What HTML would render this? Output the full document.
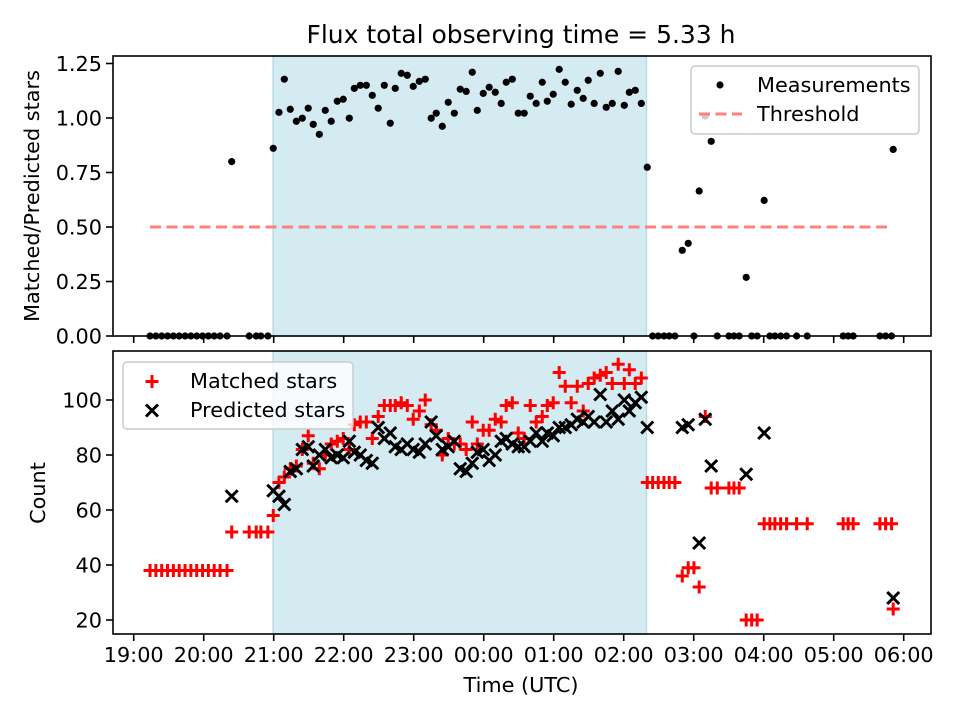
<!DOCTYPE html>
<html><head><meta charset="utf-8"><style>
body{margin:0;background:#fff}
svg{display:block;font-family:"DejaVu Sans","Liberation Sans",sans-serif}
</style></head><body>
<svg id="chart" width="960" height="720" viewBox="0 0 960 720"></svg>
<script>
// times in minutes after 19:00 UTC
const times=[14,19,24,29,34,39,44,49,54,59,64,69,74,80,84,99,105,109,115,
119.6,124.5,129.1,134.2,139.4,144.5,149.6,153.9,159.1,164.2,169.3,174.5,179.6,184.8,189.1,194.2,199.4,204.5,209.6,214.8,219.9,224.2,229.3,234.5,239.6,244.8,249.9,255.0,259.3,264.5,269.6,274.8,279.9,285.0,290.2,294.5,299.6,304.7,309.9,315.0,319.3,324.5,329.6,334.7,339.9,345.0,350.2,354.5,359.6,364.7,369.9,375.0,380.2,385.3,389.6,394.7,399.9,405.0,410.2,415.3,420.5,424.8,429.9,435.1,440.2,
444.8,449.6,454.5,459.0,463.9,470.2,475.3,480.2,484.7,489.9,495.0,500.2,510.2,514.5,519.0,525.0,529.7,534.4,540.4,545.3,549.6,554.5,559.6,568.2,577.3,608.1,612.4,616.7,639.6,644.5,649.6,651.0];
const ratio=[0,0,0,0,0,0,0,0,0,0,0,0,0,0,0.80,0,0,0,0,
0.861,1.026,1.178,1.04,0.985,0.999,1.045,0.971,0.925,1.035,0.985,1.077,1.086,0.999,1.136,1.15,1.15,1.104,1.045,1.15,0.976,1.136,1.205,1.196,1.145,1.168,1.178,0.999,1.022,0.962,1.072,1.022,1.132,1.122,1.21,1.035,1.113,1.141,1.118,1.067,1.164,1.178,1.022,1.022,1.10,1.067,1.164,1.077,1.109,1.223,1.164,1.063,1.127,1.09,1.173,1.067,1.205,1.049,1.067,1.214,1.058,1.118,1.127,1.067,0.774,
0,0,0,0,0,0.393,0.425,0,0.665,1.009,0.893,0,0,0,0,0.269,0,0,0.622,0,0,0,0,0,0,0,0,0,0,0,0,0.856];
const matched=[38,38,38,38,38,38,38,38,38,38,38,38,38,38,52,52,52,52,52,
58,70,72,75,76,82,87,77,75,80,84,85,86,82,91,92,92,86,94,98,98,98,99,98,93,96,100,91,89,80,86,84,84,82,92,84,89,89,93,92,98,99,88,86,98,92,94,98,99,110,105,99,105,96,106,108,109,110,106,113,106,111,106,108,70,
70,70,70,70,70,36,39,39,32,94,68,68,68,68,68,20,20,20,55,55,55,55,55,55,55,55,55,55,55,55,55,24];
const predicted=[null,null,null,null,null,null,null,null,null,null,null,null,null,null,65,null,null,null,null,
67,65,62,74,75,82,83,76,80,82,79,80,79,85,81,80,78,77,90,86,88,83,82,84,82,81,84,92,87,82,83,85,75,74,77,81,82,78,80,85,86,84,83,83,85,88,85,88,87,90,90,91,93,92,94,92,102,92,96,93,100,96,99,101,90,
null,null,null,null,null,90,91,null,48,93,76,null,null,null,null,73,null,null,88,null,null,null,null,null,null,null,null,null,null,null,null,28];
const xTickLabels=["19:00","20:00","21:00","22:00","23:00","00:00","01:00","02:00","03:00","04:00","05:00","06:00"];
const topTicks=[0,0.25,0.5,0.75,1.0,1.25];
const botTicks=[20,40,60,80,100];
const shadeStart=119.5, shadeEnd=439.5, thrStart=14, thrEnd=650, threshold=0.5;

const NS="http://www.w3.org/2000/svg";
const svg=document.getElementById('chart');
function mk(tag,attrs,parent){const e=document.createElementNS(NS,tag);for(const k in attrs)e.setAttribute(k,attrs[k]);(parent||svg).appendChild(e);return e;}
const L=113,R=931,T1=56,B1=336,T2=351,B2=634,FS=20.8;
const xs=m=>133.7+m*70/60;
const y1=v=>336-v*218;
const y2=v=>620-(v-20)*2.75;

let t=mk('text',{x:521,y:43,'text-anchor':'middle','font-size':25,fill:'#000'});t.textContent='Flux total observing time = 5.33 h';



function panel(top,bot,name){
  const g=mk('g',{});
  
  
  const sh=mk('rect',{x:xs(shadeStart),y:top,width:xs(shadeEnd)-xs(shadeStart),height:bot-top,fill:'#d5ebf2',stroke:'#b9dbe6','stroke-width':1.5},g);
  
  
  return g;
}
const g1=panel(T1,B1,'top-panel');
const g2=panel(T2,B2,'bottom-panel');

const thr=mk('line',{x1:xs(thrStart),x2:xs(thrEnd),y1:y1(threshold),y2:y1(threshold),stroke:'#ff8080','stroke-width':3,'stroke-dasharray':'11 5.5'},g1);



times.forEach((m,i)=>{
  const c=mk('circle',{cx:xs(m),cy:y1(ratio[i]),r:3.6,fill:'#000'},g1);
  
  
});
function plus(x,y,p){return mk('path',{d:`M${x-6.5},${y}H${x+6.5}M${x},${y-6.5}V${y+6.5}`,stroke:'#ff0000','stroke-width':3,fill:'none'},p);}
function cross(x,y,p){return mk('path',{d:`M${x-6},${y-6}L${x+6},${y+6}M${x-6},${y+6}L${x+6},${y-6}`,stroke:'#000','stroke-width':3,fill:'none'},p);}
times.forEach((m,i)=>{
  const e=plus(xs(m),y2(matched[i]),g2);
  
  
});
times.forEach((m,i)=>{
  if(predicted[i]==null)return;
  const e=cross(xs(m),y2(predicted[i]),g2);
  
  
});

[[T1,B1,'top'],[T2,B2,'bottom']].forEach(([top,bot,nm])=>{
  const f=mk('rect',{x:L,y:top,width:R-L,height:bot-top,fill:'none',stroke:'#000','stroke-width':1.6});
  
  
  xTickLabels.forEach((lab,i)=>{
    const x=xs(i*60);
    mk('line',{x1:x,x2:x,y1:bot,y2:bot+7,stroke:'#000','stroke-width':1.6});
    if(nm==='bottom'){
      const tx=mk('text',{x:x,y:bot+28,'text-anchor':'middle','font-size':FS});tx.textContent=lab;
      
      
    }
  });
});
topTicks.forEach(v=>{
  const y=y1(v);
  mk('line',{x1:L,x2:L-7,y1:y,y2:y,stroke:'#000','stroke-width':1.6});
  const tx=mk('text',{x:L-11,y:y+7.5,'text-anchor':'end','font-size':FS});tx.textContent=v.toFixed(2);
  
  
});
botTicks.forEach(v=>{
  const y=y2(v);
  mk('line',{x1:L,x2:L-7,y1:y,y2:y,stroke:'#000','stroke-width':1.6});
  const tx=mk('text',{x:L-11,y:y+7.5,'text-anchor':'end','font-size':FS});tx.textContent=v;
  
  
});
t=mk('text',{x:0,y:0,'text-anchor':'middle','font-size':FS,transform:'translate(39,196) rotate(-90)'});t.textContent='Matched/Predicted stars';


t=mk('text',{x:0,y:0,'text-anchor':'middle','font-size':FS,transform:'translate(45,493) rotate(-90)'});t.textContent='Count';


t=mk('text',{x:521,y:692,'text-anchor':'middle','font-size':FS});t.textContent='Time (UTC)';



const lg1=mk('g',{});


mk('rect',{x:691,y:66,width:228,height:68,rx:4,fill:'rgba(255,255,255,0.8)',stroke:'#ccc','stroke-width':1.5},lg1);
mk('circle',{cx:720,cy:85,r:3.6,fill:'#000'},lg1);
t=mk('text',{x:757,y:92,'font-size':FS},lg1);t.textContent='Measurements';


mk('line',{x1:699,x2:742,y1:114,y2:114,stroke:'#ff8080','stroke-width':3,'stroke-dasharray':'11 5.5'},lg1);
t=mk('text',{x:757,y:121,'font-size':FS},lg1);t.textContent='Threshold';



const lg2=mk('g',{});


mk('rect',{x:123,y:362,width:230,height:67,rx:4,fill:'rgba(255,255,255,0.8)',stroke:'#ccc','stroke-width':1.5},lg2);
plus(152,381.5,lg2);
t=mk('text',{x:190,y:388,'font-size':FS},lg2);t.textContent='Matched stars';


cross(152,410.5,lg2);
t=mk('text',{x:190,y:417,'font-size':FS},lg2);t.textContent='Predicted stars';


</script>
</body></html>
